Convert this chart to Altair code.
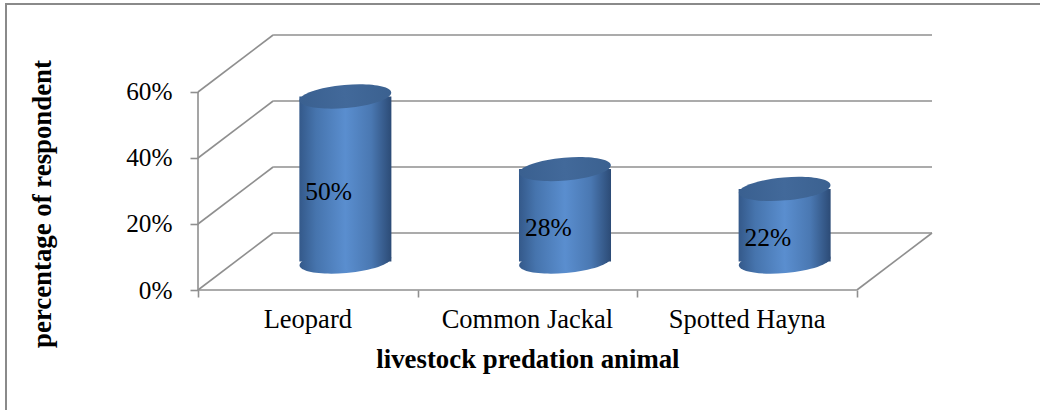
import altair as alt
import pandas as pd

# ---- data ----
categories = ["Leopard", "Common Jackal", "Spotted Hayna"]
values = [50, 28, 22]
value_labels = ["50%", "28%", "22%"]
y_ticks = [0, 20, 40, 60]
x_title = "livestock predation animal"
y_title = "percentage of respondent"

# ---- style / projection constants ----
DX = 0.342    # depth offset of the 3-D box (category units)
DY = 17.27    # depth offset of the 3-D box (percent units)
HW = 0.2095   # cylinder half width (category units)
n = len(categories)
X_MAX = n + DX
Y_MAX = y_ticks[-1] + DY
W, H = 734, 255
PAD = {"left": 198, "top": 35, "right": 108, "bottom": 120}
FONT = "Liberation Serif"
GRID = "#8f8f8f"

xs = alt.Scale(domain=[0, X_MAX], nice=False, zero=False)
ys = alt.Scale(domain=[0, Y_MAX], nice=False, zero=False)

x_axis = alt.Axis(values=list(range(n + 1)), labels=False, ticks=True, tickSize=7,
                  tickColor=GRID, tickWidth=1.6, domain=False, grid=False,
                  title=x_title, titleFont=FONT, titleFontSize=26.8, titleFontWeight="bold",
                  titleColor="black", titleX=(n / 2) / X_MAX * W, titleY=77,
                  titleBaseline="alphabetic", titleAlign="center")
y_axis = alt.Axis(values=y_ticks, labelExpr="datum.value + '%'", tickSize=8, tickColor=GRID,
                  tickWidth=1.6, labelPadding=18, labelFont=FONT, labelFontSize=25.3,
                  labelColor="black", domain=False, grid=False,
                  title=y_title, titleFont=FONT, titleFontSize=26.8, titleFontWeight="bold",
                  titleColor="black", titleAngle=270, titleX=-156, titleY=168.5,
                  titleAlign="center", titleBaseline="middle")


def X(f="x"):
    return alt.X(f"{f}:Q", scale=xs, axis=x_axis)


def Y(f="y"):
    return alt.Y(f"{f}:Q", scale=ys, axis=y_axis)


# ---- frame segments of the 3-D box ----
segs = [dict(x=0, y=0, x2=0, y2=y_ticks[-1]),
        dict(x=0, y=0, x2=n, y2=0),
        dict(x=n, y=0, x2=n + DX, y2=DY)]
for v in y_ticks:
    segs.append(dict(x=0, y=v, x2=DX, y2=v + DY))
    segs.append(dict(x=DX, y=v + DY, x2=n + DX, y2=v + DY))
seg_df = pd.DataFrame(segs)

frame = alt.Chart(seg_df).mark_rule(color=GRID, strokeWidth=1.6).encode(
    x=X(), y=Y(), x2="x2:Q", y2="y2:Q")

centers = [i + 0.5 + DX / 2 for i in range(n)]
body_df = pd.DataFrame({
    "x": [c - HW for c in centers], "x2": [c + HW for c in centers],
    "y": [DY / 2] * n, "y2": [v + DY / 2 for v in values]})
top_df = pd.DataFrame({"x": centers, "y": [v + DY / 2 for v in values]})
bot_df = pd.DataFrame({"x": centers, "y": [DY / 2] * n})
lab_df = pd.DataFrame({"x": [c - HW for c in centers],
                       "y": [v / 2 + DY / 2 for v in values], "t": value_labels})
cat_df = pd.DataFrame({"x": [i + 0.5 for i in range(n)], "y": [0] * n, "t": categories})

body_grad = alt.LinearGradient(gradient="linear", x1=0, x2=1, y1=0, y2=0, stops=[
    alt.GradientStop(color="#34598a", offset=0),
    alt.GradientStop(color="#4674ad", offset=0.18),
    alt.GradientStop(color="#5a8ecf", offset=0.5),
    alt.GradientStop(color="#4a78b2", offset=0.78),
    alt.GradientStop(color="#2c4b76", offset=1)])
top_grad = alt.LinearGradient(gradient="linear", x1=0, x2=1, y1=0, y2=0, stops=[
    alt.GradientStop(color="#3a6090", offset=0),
    alt.GradientStop(color="#42699a", offset=0.5),
    alt.GradientStop(color="#3b6190", offset=1)])

ELLIPSE = ("M-1,0 C-1,-0.138 -0.552,-0.25 0,-0.25 C0.552,-0.25 1,-0.138 1,0 "
           "C1,0.138 0.552,0.25 0,0.25 C-0.552,0.25 -1,0.138 -1,0 Z")
SIZE = (2 * HW / X_MAX * W) ** 2

bottom = alt.Chart(bot_df).mark_point(shape=ELLIPSE, size=SIZE, filled=True, fill=body_grad,
                                       opacity=1, strokeWidth=0, angle=355).encode(x=X(), y=Y())
body = alt.Chart(body_df).mark_rect(fill=body_grad).encode(x=X(), y=Y(), x2="x2:Q", y2="y2:Q")
top = alt.Chart(top_df).mark_point(shape=ELLIPSE, size=SIZE, filled=True, fill=top_grad,
                                    opacity=1, strokeWidth=0, angle=355).encode(x=X(), y=Y())
vlabels = alt.Chart(lab_df).mark_text(font=FONT, fontSize=25.5, color="black", align="left",
                                       baseline="middle", dx=6, dy=12.5).encode(
    x=X(), y=Y(), text="t:N")
clabels = alt.Chart(cat_df).mark_text(font=FONT, fontSize=26.5, color="black", align="center",
                                       baseline="alphabetic", dy=38).encode(
    x=X(), y=Y(), text="t:N")

border = alt.Chart(alt.Data(values=[{}])).mark_rect(filled=False, stroke="#8a8a8a",
                                                     strokeWidth=2).encode(
    x=alt.value(-192), y=alt.value(-31), x2=alt.value(W + 300), y2=alt.value(H + 300))

chart = alt.layer(border, frame, bottom, body, top, vlabels, clabels).properties(
    width=W, height=H, padding=PAD, autosize=alt.AutoSizeParams(type="none"),
    background="white").configure_view(stroke=None)

chart.save("out.html", embed_options={"renderer": "svg", "actions": False})
